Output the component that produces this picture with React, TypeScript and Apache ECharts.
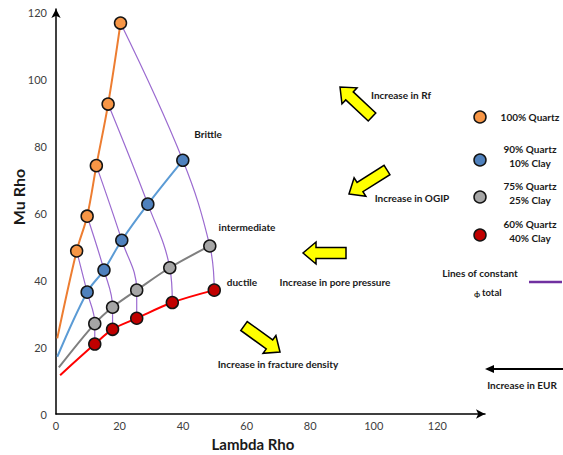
import { useEffect, useRef } from "react";
import * as echarts from "echarts";

type Pt = [number, number];

// [Lambda Rho, Mu Rho] per mineral mix, ordered from highest to lowest porosity
const quartz100: Pt[] = [[6.5, 48.7], [9.8, 59.1], [12.7, 74.2], [16.4, 92.6], [20.3, 116.8]];
const quartz90: Pt[] = [[9.8, 36.4], [15.1, 43.0], [20.7, 51.9], [28.9, 62.7], [39.9, 75.8]];
const quartz75: Pt[] = [[12.2, 27.0], [17.8, 31.9], [25.4, 37.0], [35.8, 43.7], [48.4, 50.2]];
const quartz60: Pt[] = [[12.2, 20.9], [17.8, 25.3], [25.4, 28.6], [36.6, 33.3], [49.8, 37.0]];

// where each mineral trend begins near the Mu Rho axis
const trendStarts: Pt[] = [[0.4, 22.6], [0.4, 17.1], [0.9, 13.9], [1.3, 11.6]];

const mixLabels = ["100% Quartz", "90% Quartz\n10% Clay", "75% Quartz\n25% Clay", "60% Quartz\n40% Clay"];
const lineColors = ["#ED7D31", "#5B9BD5", "#7F7F7F", "#FF0000"];
const fillColors = ["#F79646", "#4F81BD", "#A6A6A6", "#C00000"];

const xTickStep = 20;
const yTickStep = 20;

const FONT = "Lato, 'Open Sans', sans-serif";

// block arrow outline pointing from tail to tip
function blockArrow(tip: Pt, tail: Pt, shaftW: number, headW: number, headL: number): number[][] {
  const dx = tail[0] - tip[0];
  const dy = tail[1] - tip[1];
  const len = Math.hypot(dx, dy);
  const ux = dx / len, uy = dy / len;
  const nx = -uy, ny = ux;
  const bx = tip[0] + ux * headL, by = tip[1] + uy * headL;
  return [
    [tip[0], tip[1]],
    [bx + nx * headW / 2, by + ny * headW / 2],
    [bx + nx * shaftW / 2, by + ny * shaftW / 2],
    [tail[0] + nx * shaftW / 2, tail[1] + ny * shaftW / 2],
    [tail[0] - nx * shaftW / 2, tail[1] - ny * shaftW / 2],
    [bx - nx * shaftW / 2, by - ny * shaftW / 2],
    [bx - nx * headW / 2, by - ny * headW / 2],
  ];
}

function label(text: string, x: number, y: number, size = 10, extra: any = {}) {
  const { style, ...rest } = extra;
  return {
    type: "text",
    x,
    y,
    z: 10,
    ...rest,
    style: {
      text,
      fill: "#1a1a1a",
      font: `bold ${size}px ${FONT}`,
      align: "center",
      verticalAlign: "middle",
      lineHeight: 14,
      ...(style || {}),
    },
  };
}

function yellowArrow(tip: Pt, tail: Pt) {
  return {
    type: "polygon",
    z: 10,
    shape: { points: blockArrow(tip, tail, 11, 22, 13) },
    style: { fill: "#FFFF00", stroke: "#000", lineWidth: 1.5, lineJoin: "miter" },
  };
}

export default function App() {
  const ref = useRef<HTMLDivElement>(null);

  useEffect(() => {
    if (!ref.current) return;
    const chart = echarts.init(ref.current, undefined, { renderer: "svg" });

    const groups = [quartz100, quartz90, quartz75, quartz60];

    // lines of constant total porosity join matching samples across the mixes
    const isoLines = quartz100.map((_, k) => ({
      type: "line",
      data: groups.map((g) => g[k]),
      smooth: 0.4,
      symbol: "none",
      lineStyle: { color: "#9B6BD0", width: 1.2 },
      z: 1,
      silent: true,
    }));

    const trends = groups.map((g, i) => ({
      type: "line",
      data: [trendStarts[i], ...g],
      smooth: 0.35,
      symbol: "none",
      lineStyle: { color: lineColors[i], width: 2 },
      z: 2,
      silent: true,
    }));

    const markers = groups.map((g, i) => ({
      type: "scatter",
      name: mixLabels[i],
      data: g,
      symbol: "circle",
      symbolSize: 12,
      itemStyle: { color: fillColors[i], borderColor: "#141414", borderWidth: 1.5, opacity: 1 },
      z: 3,
    }));

    const legendY = [117, 160, 197, 235];
    const legendItems: any[] = [];
    mixLabels.forEach((t, i) => {
      legendItems.push({
        type: "circle",
        z: 10,
        shape: { cx: 480, cy: legendY[i], r: 6 },
        style: { fill: fillColors[i], stroke: "#141414", lineWidth: 1.5 },
      });
      legendItems.push(label(t, 530, legendY[i] - (i === 0 ? 0 : 4)));
    });

    chart.setOption({
      animation: false,
      grid: { left: 56, right: 78, top: 9, bottom: 41 },
      xAxis: {
        type: "value",
        min: 0,
        max: 135,
        interval: xTickStep,
        axisLine: { show: true, lineStyle: { color: "#000", width: 1.5 }, symbol: ["none", "arrow"], symbolSize: [7, 9] },
        axisTick: { show: false },
        splitLine: { show: false },
        axisLabel: { showMaxLabel: false, margin: 6, fontSize: 11, color: "#404040", fontFamily: FONT },
      },
      yAxis: {
        type: "value",
        min: 0,
        max: 121,
        interval: yTickStep,
        axisLine: { show: true, lineStyle: { color: "#000", width: 1.5 }, symbol: ["none", "arrow"], symbolSize: [7, 9] },
        axisTick: { show: false },
        splitLine: { show: false },
        axisLabel: { showMaxLabel: false, margin: 9, fontSize: 11, color: "#404040", fontFamily: FONT },
      },
      series: [...isoLines, ...trends, ...markers],
      graphic: [
        label("Mu Rho", 18, 197, 16, { rotation: Math.PI / 2 }),
        label("Lambda Rho", 253, 444, 15),
        label("Brittle", 208, 134),
        label("intermediate", 247, 227),
        label("ductile", 242, 282),
        label("Increase in Rf", 401, 95),
        label("Increase in OGIP", 412, 198),
        label("Increase in pore pressure", 335, 282),
        label("Increase in fracture density", 278, 364),
        label("Increase in EUR", 522, 385),
        yellowArrow([340, 87], [372, 117]),
        yellowArrow([349, 194], [387, 170]),
        yellowArrow([303, 253], [346, 253]),
        yellowArrow([280, 352], [244, 326]),
        {
          type: "line",
          z: 10,
          shape: { x1: 563, y1: 369, x2: 492, y2: 369 },
          style: { stroke: "#000", lineWidth: 2 },
        },
        {
          type: "polygon",
          z: 10,
          shape: { points: [[485, 369], [494, 365], [494, 373]] },
          style: { fill: "#000" },
        },
        ...legendItems,
        label("Lines of constant", 480, 273),
        label("\u03D5", 477, 294, 8),
        label("total", 482, 292, 9.5, { style: { align: "left" } }),
        {
          type: "line",
          z: 10,
          shape: { x1: 529, y1: 282, x2: 562, y2: 282 },
          style: { stroke: "#7030A0", lineWidth: 2.5 },
        },
      ],
    });

    return () => chart.dispose();
  }, []);

  return (
    <div
      ref={ref}
      style={{ position: "fixed", left: 0, top: 0, width: 563, height: 455, background: "#fff" }}
    />
  );
}
